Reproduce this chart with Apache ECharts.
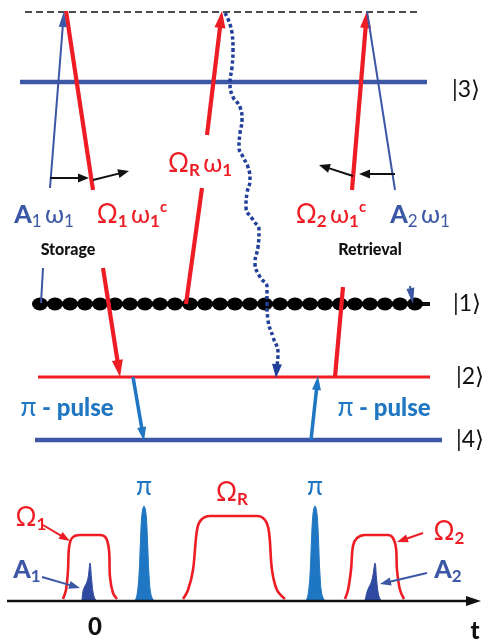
<!DOCTYPE html>
<html>
<head>
<meta charset="utf-8">
<script src="https://cdn.jsdelivr.net/npm/echarts@6/dist/echarts.min.js"></script>
<style>
html, body { margin: 0; padding: 0; background: #fff; }
#main { width: 488px; height: 644px; }
</style>
</head>
<body>
<div id="main"></div>
<script>
// ---- data (diagram coordinates, x: 0..488, y: 0..644 downward) ----
const levelNames = ['|3⟩', '|1⟩', '|2⟩', '|4⟩'];
const levelY = [82, 304, 377, 440];
const levelStart = [20, 33, 38, 35];
const levelEnd = [427, 430, 430, 442];
const levelLabelX = [452, 453, 456, 456];
const virtualLevel = [[25, 12], [420, 12]];

// spin-wave "beads" on |1>
const beadX = [40, 55, 70, 85, 100, 115, 130, 145, 160, 175, 190, 205, 220, 235, 250, 265, 280, 295, 310, 325, 340, 355, 370, 385, 400, 415];

// beams: x1, y1, x2, y2, arrowhead
const redBeams = [
    [66, 11, 93, 190, 0],
    [103, 268, 120, 377, 1],
    [186, 304, 202, 188, 0],
    [207, 135, 222, 11, 1],
    [352, 190, 367, 11, 1],
    [335, 377, 343, 287, 0]
];
const signalBeams = [
    [50, 188, 64, 11, 1],
    [43, 268, 41, 303, 0],
    [367, 11, 395, 190, 0],
    [410, 286, 413, 304, 1]
];
const kVectors = [
    [50, 178, 89, 178, 1],
    [93, 180, 129, 171, 1],
    [395, 174, 359, 174, 1],
    [353, 176, 319, 165, 1]
];
const piArrows = [
    [133, 377, 144, 441, 1],
    [311, 440, 318, 376, 1]
];
const decayPath = [
    [225, 13], [232, 33], [233, 50], [232, 67], [230, 83], [233, 97], [240, 107], [242, 120],
    [240, 133], [239, 147], [243, 157], [248, 167], [250, 180], [247, 193], [246, 207], [253, 220],
    [259, 230], [258, 247], [255, 263], [260, 277], [267, 287], [267, 303], [268, 320], [273, 337],
    [278, 353], [277, 366]
];
const decayHead = [[277, 364, 276, 378, 1]];

// pulse sequence (time axis at y = 601)
const timeAxis = [[7, 601, 481, 601, 1]];
const omega1Pulse = [[63, 599], [66, 590], [68, 570], [69, 548], [72, 538], [80, 535], [100, 535], [106, 538], [109, 550], [110, 577], [113, 593], [117, 599]];
const omegaRPulse = [[183, 599], [188, 590], [193, 570], [197, 530], [201, 520], [210, 516], [257, 516], [265, 520], [269, 532], [272, 570], [277, 590], [285, 599]];
const omega2Pulse = [[345, 599], [348, 590], [351, 570], [353, 546], [357, 538], [365, 535], [388, 535], [393, 538], [396, 548], [397, 570], [400, 590], [404, 599]];
const piPulse1 = [[135, 601], [137, 595], [139, 575], [140.5, 540], [142, 514], [144, 506], [146, 514], [147.5, 540], [149, 575], [151, 595], [154, 601]];
const piPulse2 = [[306, 601], [308, 595], [310, 575], [311.5, 540], [313, 514], [315, 506], [317, 514], [318.5, 540], [320, 575], [322, 595], [325, 601]];
const a1Pulse = [[82, 601], [83, 591], [85, 586], [87, 582], [88.5, 575], [90, 563], [91.5, 578], [93, 592], [95, 599], [97, 601]];
const a2Pulse = [[365, 601], [367, 592], [369, 587], [371, 583], [373, 575], [375, 563], [376.5, 578], [378, 592], [380, 599], [382, 601]];
const pointerRed = [[43, 525, 70, 541, 1], [423, 533, 397, 542, 1]];
const pointerBlue = [[42, 577, 80, 588, 1], [427, 573, 380, 584, 1]];

// labels: x, y, text
const labelPos = [
    [44, 215], [132, 215], [68, 250], [200, 164], [331, 215], [420, 215], [370, 250],
    [67, 408], [384, 408],
    [31, 518], [232, 493], [449, 532], [27, 570], [448, 570],
    [144, 487], [315, 487], [95, 627], [475, 631]
];
const labelText = [
    '{bA|A}{bs|1} {bw|ω}{bs|1}',
    '{rO|Ω}{rs|1} {rw|ω}{rs|1}{rc|c}',
    '{st|Storage}',
    '{rO|Ω}{rs|R} {rw|ω}{rs|1}',
    '{rO|Ω}{rs|2} {rw|ω}{rs|1}{rc|c}',
    '{bA|A}{bs|2} {bw|ω}{bs|1}',
    '{st|Retrieval}',
    '{pi|π}{pp| - pulse}',
    '{pi|π}{pp| - pulse}',
    '{rO|Ω}{rs|1}',
    '{rO|Ω}{rs|R}',
    '{rO|Ω}{rs|2}',
    '{bA|A}{bsb|1}',
    '{bA|A}{bsb|2}',
    '{pi|π}',
    '{pi|π}',
    '{num|0}',
    '{num|t}'
];

// ---- styling ----
const RED = '#ee1c24';
const BLUE = '#3d57a7';
const PI_BLUE = '#1f76c2';
const DARK_BLUE = '#22409a';
const BLACK = '#111111';
const FONT = "Lato, 'Open Sans', 'DejaVu Sans', sans-serif";

const levelColor = { '|3⟩': BLUE, '|1⟩': BLACK, '|2⟩': RED, '|4⟩': BLUE };
const levelWidth = { '|3⟩': 4.5, '|1⟩': 4, '|2⟩': 3, '|4⟩': 4.5 };

function tok(size, color, weight, extra) {
    return Object.assign({
        fontSize: size, fontFamily: FONT, fontWeight: weight || 'normal',
        fill: color, color: color, lineHeight: 30
    }, extra || {});
}
const rich = {
    bA: tok(25, BLUE, 900),
    bw: tok(25, BLUE),
    bs: tok(17, BLUE, 'normal', { lineHeight: 19, verticalAlign: 'bottom' }),
    bsb: tok(17, BLUE, 'bold', { lineHeight: 19, verticalAlign: 'bottom' }),
    rO: tok(26, RED),
    rw: tok(25, RED),
    rs: tok(17, RED, 'bold', { lineHeight: 19, verticalAlign: 'bottom' }),
    rc: tok(15, RED, 'bold', { lineHeight: 12, verticalAlign: 'top' }),
    st: tok(16, BLACK, 900),
    ket: tok(23, BLACK),
    pi: tok(26, PI_BLUE),
    pp: tok(24, PI_BLUE, 900),
    num: tok(24, BLACK, 900)
};

function arrowSeries(items, color, width, headLen, headWidth) {
    return {
        type: 'custom',
        coordinateSystem: 'cartesian2d',
        silent: true,
        z: 5,
        encode: { x: [0, 2], y: [1, 3] },
        data: items,
        renderItem: function (params, api) {
            const a = api.coord([api.value(0), api.value(1)]);
            const b = api.coord([api.value(2), api.value(3)]);
            const head = api.value(4) === 1;
            const len = Math.hypot(b[0] - a[0], b[1] - a[1]) || 1;
            const ux = (b[0] - a[0]) / len, uy = (b[1] - a[1]) / len;
            const children = [];
            const cut = head ? headLen * 0.7 : 0;
            if (width > 0) {
                children.push({
                    type: 'line',
                    shape: { x1: a[0], y1: a[1], x2: b[0] - ux * cut, y2: b[1] - uy * cut },
                    style: { stroke: color, lineWidth: width }
                });
            }
            if (head) {
                const bx = b[0] - ux * headLen, by = b[1] - uy * headLen;
                const hw = headWidth / 2;
                children.push({
                    type: 'polygon',
                    shape: { points: [[b[0], b[1]], [bx - uy * hw, by + ux * hw], [bx + uy * hw, by - ux * hw]] },
                    style: { fill: color }
                });
            }
            return { type: 'group', children: children };
        }
    };
}

function curve(data, color, width) {
    return {
        type: 'line', data: data, smooth: 0.35, showSymbol: false, silent: true, z: 3,
        lineStyle: { color: color, width: width }
    };
}

function peak(data, color) {
    return {
        type: 'line', data: data, smooth: 0.4, showSymbol: false, silent: true, z: 3,
        lineStyle: { color: color, width: 1 },
        itemStyle: { color: color },
        areaStyle: { color: color, opacity: 1, origin: 601 }
    };
}

let myChart = echarts.init(document.getElementById('main'), null, { renderer: 'canvas' });

let series = [];
// virtual level (dashed)
series.push({
    type: 'line', data: virtualLevel, showSymbol: false, silent: true, z: 1,
    lineStyle: { color: BLACK, width: 1.6, type: [7, 4] }
});
// atomic levels
levelNames.forEach(function (name, i) {
    series.push({
        type: 'line', name: name, showSymbol: false, silent: true, z: 1,
        data: [[levelStart[i], levelY[i]], [levelEnd[i], levelY[i]]],
        lineStyle: { color: levelColor[name], width: levelWidth[name] }
    });
});
// beads on |1>
series.push({
    type: 'scatter', silent: true, z: 2,
    data: beadX.map(function (x) { return [x, levelY[1]]; }),
    symbol: 'circle', symbolSize: [16, 13],
    itemStyle: { color: '#000', opacity: 1 }
});
// decay path
series.push({
    type: 'line', data: decayPath, smooth: 0.5, showSymbol: false, silent: true, z: 4,
    lineStyle: { color: DARK_BLUE, width: 3.5, type: [3.5, 2.6], cap: 'butt' }
});
// beams and arrows
series.push(arrowSeries(redBeams, RED, 4.2, 17, 11));
series.push(arrowSeries(signalBeams, BLUE, 2, 16, 8));
series.push(arrowSeries(kVectors, BLACK, 2, 11, 9));
series.push(arrowSeries(piArrows, PI_BLUE, 3.5, 14, 9));
series.push(arrowSeries(decayHead, DARK_BLUE, 0, 14, 10));
series.push(arrowSeries(timeAxis, BLACK, 2.5, 15, 10));
series.push(arrowSeries(pointerRed, RED, 2, 11, 8));
series.push(arrowSeries(pointerBlue, BLUE, 2, 11, 8));
// pulses
series.push(curve(omega1Pulse, RED, 2.6));
series.push(curve(omegaRPulse, RED, 2.6));
series.push(curve(omega2Pulse, RED, 2.6));
series.push(peak(piPulse1, PI_BLUE));
series.push(peak(piPulse2, PI_BLUE));
series.push(peak(a1Pulse, '#2f4aa0'));
series.push(peak(a2Pulse, '#2f4aa0'));
// level labels
series.push({
    type: 'custom', coordinateSystem: 'cartesian2d', silent: true, z: 6,
    data: levelNames.map(function (n, i) { return [levelLabelX[i], levelY[i] + (i === 0 ? 8 : 0)]; }),
    renderItem: function (params, api) {
        const p = api.coord([api.value(0), api.value(1)]);
        return {
            type: 'text', x: p[0], y: p[1],
            style: { text: '{ket|' + levelNames[params.dataIndex] + '}', rich: rich, align: 'left', verticalAlign: 'middle' }
        };
    }
});
// other labels
series.push({
    type: 'custom', coordinateSystem: 'cartesian2d', silent: true, z: 6,
    data: labelPos,
    renderItem: function (params, api) {
        const p = api.coord([api.value(0), api.value(1)]);
        return {
            type: 'text', x: p[0], y: p[1],
            style: { text: labelText[params.dataIndex], rich: rich, align: 'center', verticalAlign: 'middle' }
        };
    }
});

let option = {
    animation: false,
    backgroundColor: '#fff',
    grid: { left: 0, right: 0, top: 0, bottom: 0 },
    xAxis: { type: 'value', min: 0, max: 488, show: false },
    yAxis: { type: 'value', min: 0, max: 644, inverse: true, show: false },
    series: series
};
myChart.setOption(option);
</script>
</body>
</html>
